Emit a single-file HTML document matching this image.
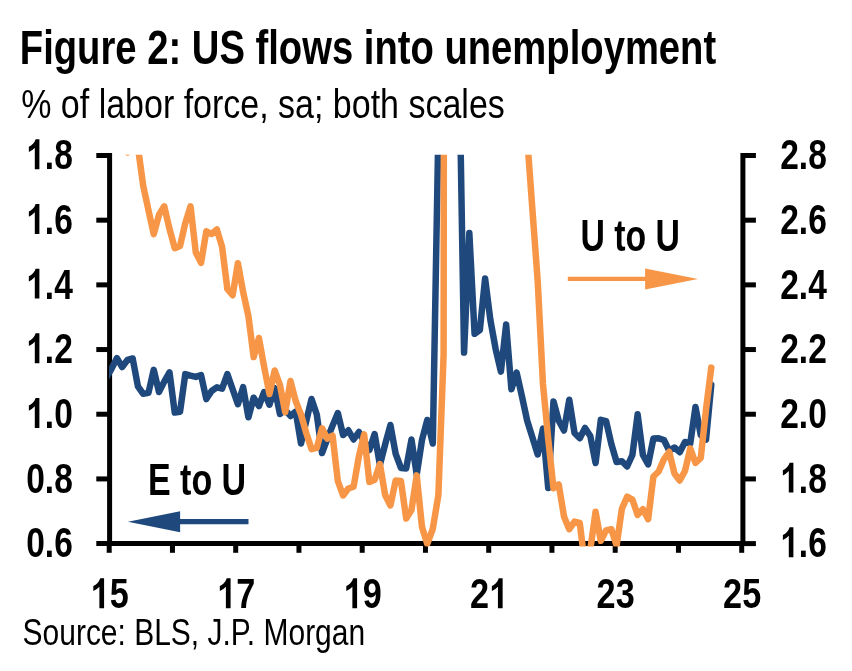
<!DOCTYPE html>
<html><head><meta charset="utf-8"><title>Figure 2</title>
<style>
html,body{margin:0;padding:0;background:#fff;}
svg{display:block;will-change:transform;}
text{font-family:"Liberation Sans",sans-serif;fill:#000;}
.b{font-weight:bold;}
</style></head><body>
<svg width="852" height="671" viewBox="0 0 852 671">
<rect width="852" height="671" fill="#fff"/>
<defs><clipPath id="cp"><rect x="109" y="154.8" width="634" height="391.6"/></clipPath></defs>
<text x="19.8" y="63.8" font-size="47.3" class="b" textLength="696.4" lengthAdjust="spacingAndGlyphs">Figure 2: US flows into unemployment</text>
<text x="21.2" y="117.6" font-size="41" textLength="483.6" lengthAdjust="spacingAndGlyphs">% of labor force, sa; both scales</text>
<text x="22.6" y="644.9" font-size="37.8" textLength="342.5" lengthAdjust="spacingAndGlyphs">Source: BLS, J.P. Morgan</text>
<g stroke="#000" stroke-width="5.0" fill="none" stroke-linecap="butt">
<path d="M109.6,153.00 V546.10"/>
<path d="M742.9,153.00 V546.10"/>
<path d="M96.3,543.60 H745.40"/>
<path d="M96.3,155.50 H109.6"/>
<path d="M96.3,220.18 H109.6"/>
<path d="M96.3,284.87 H109.6"/>
<path d="M96.3,349.55 H109.6"/>
<path d="M96.3,414.23 H109.6"/>
<path d="M96.3,478.92 H109.6"/>
<path d="M742.9,155.50 H755.9"/>
<path d="M742.9,220.18 H755.9"/>
<path d="M742.9,284.87 H755.9"/>
<path d="M742.9,349.55 H755.9"/>
<path d="M742.9,414.23 H755.9"/>
<path d="M742.9,478.92 H755.9"/>
<path d="M742.9,543.60 H755.9"/>
<path d="M109.20,543.60 V552.8"/>
<path d="M172.45,543.60 V552.8"/>
<path d="M235.70,543.60 V552.8"/>
<path d="M298.95,543.60 V552.8"/>
<path d="M362.20,543.60 V552.8"/>
<path d="M425.45,543.60 V552.8"/>
<path d="M488.70,543.60 V552.8"/>
<path d="M551.95,543.60 V552.8"/>
<path d="M615.20,543.60 V552.8"/>
<path d="M678.45,543.60 V552.8"/>
<path d="M741.70,543.60 V552.8"/>
</g>
<path d="M806 0H525V1059Q371 915 162 846V1101Q272 1137 401 1237.5Q530 1338 578 1472H806Z" transform="translate(26.20,169.2) scale(0.01637,-0.02034)" fill="#000"/>
<text x="44.84" y="169.2" font-size="43.4" class="b" textLength="27.96" lengthAdjust="spacingAndGlyphs">.8</text>
<text x="780.20" y="169.2" font-size="43.4" class="b" textLength="46.60" lengthAdjust="spacingAndGlyphs">2.8</text>
<path d="M806 0H525V1059Q371 915 162 846V1101Q272 1137 401 1237.5Q530 1338 578 1472H806Z" transform="translate(26.20,233.9) scale(0.01637,-0.02034)" fill="#000"/>
<text x="44.84" y="233.9" font-size="43.4" class="b" textLength="27.96" lengthAdjust="spacingAndGlyphs">.6</text>
<text x="780.20" y="233.9" font-size="43.4" class="b" textLength="46.60" lengthAdjust="spacingAndGlyphs">2.6</text>
<path d="M806 0H525V1059Q371 915 162 846V1101Q272 1137 401 1237.5Q530 1338 578 1472H806Z" transform="translate(26.20,298.6) scale(0.01637,-0.02034)" fill="#000"/>
<text x="44.84" y="298.6" font-size="43.4" class="b" textLength="27.96" lengthAdjust="spacingAndGlyphs">.4</text>
<text x="780.20" y="298.6" font-size="43.4" class="b" textLength="46.60" lengthAdjust="spacingAndGlyphs">2.4</text>
<path d="M806 0H525V1059Q371 915 162 846V1101Q272 1137 401 1237.5Q530 1338 578 1472H806Z" transform="translate(26.20,363.3) scale(0.01637,-0.02034)" fill="#000"/>
<text x="44.84" y="363.3" font-size="43.4" class="b" textLength="27.96" lengthAdjust="spacingAndGlyphs">.2</text>
<text x="780.20" y="363.3" font-size="43.4" class="b" textLength="46.60" lengthAdjust="spacingAndGlyphs">2.2</text>
<path d="M806 0H525V1059Q371 915 162 846V1101Q272 1137 401 1237.5Q530 1338 578 1472H806Z" transform="translate(26.20,427.9) scale(0.01637,-0.02034)" fill="#000"/>
<text x="44.84" y="427.9" font-size="43.4" class="b" textLength="27.96" lengthAdjust="spacingAndGlyphs">.0</text>
<text x="780.20" y="427.9" font-size="43.4" class="b" textLength="46.60" lengthAdjust="spacingAndGlyphs">2.0</text>
<text x="26.20" y="492.6" font-size="43.4" class="b" textLength="46.60" lengthAdjust="spacingAndGlyphs">0.8</text>
<path d="M806 0H525V1059Q371 915 162 846V1101Q272 1137 401 1237.5Q530 1338 578 1472H806Z" transform="translate(780.20,492.6) scale(0.01637,-0.02034)" fill="#000"/>
<text x="798.84" y="492.6" font-size="43.4" class="b" textLength="27.96" lengthAdjust="spacingAndGlyphs">.8</text>
<text x="26.20" y="557.3" font-size="43.4" class="b" textLength="46.60" lengthAdjust="spacingAndGlyphs">0.6</text>
<path d="M806 0H525V1059Q371 915 162 846V1101Q272 1137 401 1237.5Q530 1338 578 1472H806Z" transform="translate(780.20,557.3) scale(0.01637,-0.02034)" fill="#000"/>
<text x="798.84" y="557.3" font-size="43.4" class="b" textLength="27.96" lengthAdjust="spacingAndGlyphs">.6</text>
<path d="M806 0H525V1059Q371 915 162 846V1101Q272 1137 401 1237.5Q530 1338 578 1472H806Z" transform="translate(90.60,608.3) scale(0.01673,-0.02034)" fill="#000"/>
<text x="109.65" y="608.3" font-size="43.4" class="b" textLength="19.05" lengthAdjust="spacingAndGlyphs">5</text>
<path d="M806 0H525V1059Q371 915 162 846V1101Q272 1137 401 1237.5Q530 1338 578 1472H806Z" transform="translate(217.10,608.3) scale(0.01673,-0.02034)" fill="#000"/>
<text x="236.15" y="608.3" font-size="43.4" class="b" textLength="19.05" lengthAdjust="spacingAndGlyphs">7</text>
<path d="M806 0H525V1059Q371 915 162 846V1101Q272 1137 401 1237.5Q530 1338 578 1472H806Z" transform="translate(343.60,608.3) scale(0.01673,-0.02034)" fill="#000"/>
<text x="362.65" y="608.3" font-size="43.4" class="b" textLength="19.05" lengthAdjust="spacingAndGlyphs">9</text>
<text x="470.10" y="608.3" font-size="43.4" class="b" textLength="19.05" lengthAdjust="spacingAndGlyphs">2</text>
<path d="M806 0H525V1059Q371 915 162 846V1101Q272 1137 401 1237.5Q530 1338 578 1472H806Z" transform="translate(489.15,608.3) scale(0.01673,-0.02034)" fill="#000"/>
<text x="596.60" y="608.3" font-size="43.4" class="b" textLength="38.10" lengthAdjust="spacingAndGlyphs">23</text>
<text x="723.10" y="608.3" font-size="43.4" class="b" textLength="38.10" lengthAdjust="spacingAndGlyphs">25</text>
<g clip-path="url(#cp)" fill="none" stroke-linejoin="round" stroke-linecap="round">
<path d="M106.38,377.5 L111.64,368.5 L116.90,358.1 L122.16,367.0 L127.42,360.0 L132.68,358.5 L137.94,386.3 L143.20,393.8 L148.46,392.9 L153.72,369.8 L158.98,392.0 L164.24,381.6 L169.50,372.3 L174.76,412.6 L180.02,411.7 L185.28,374.1 L190.54,375.6 L195.80,376.9 L201.06,375.1 L206.32,399.1 L211.58,391.0 L216.84,387.3 L222.10,388.6 L227.36,374.1 L232.62,389.2 L237.88,404.2 L243.14,387.2 L248.40,417.3 L253.66,397.7 L258.92,406.0 L264.18,392.0 L269.44,404.7 L274.70,388.0 L279.96,414.0 L285.22,409.8 L290.48,416.0 L295.74,411.6 L301.00,443.5 L306.26,421.0 L311.52,399.0 L316.78,414.5 L322.04,453.0 L327.30,438.8 L332.56,425.6 L337.82,413.0 L343.08,435.0 L348.34,430.3 L353.60,439.5 L358.86,432.0 L364.12,441.0 L369.38,450.0 L374.64,434.1 L379.90,465.0 L385.16,444.4 L390.42,425.0 L395.68,453.8 L400.94,467.9 L406.20,468.4 L411.46,439.5 L416.72,474.5 L421.98,440.0 L427.24,420.0 L432.80,443.5 L438.36,130.0 L443.62,-3000.0 L448.88,-1500.0 L453.54,-700.0 L458.80,38.0 L464.06,352.6 L469.32,233.0 L474.58,333.8 L479.84,330.1 L485.10,278.5 L490.36,319.8 L495.62,348.9 L500.88,371.6 L506.14,324.5 L511.40,389.2 L516.66,372.6 L521.92,396.3 L527.18,420.8 L532.44,437.5 L537.70,454.5 L542.96,428.6 L548.22,488.0 L553.48,401.4 L558.74,420.8 L564.00,430.5 L569.26,399.7 L574.52,433.0 L579.78,438.2 L585.04,428.0 L590.30,436.0 L595.56,463.0 L600.82,419.8 L606.08,421.1 L611.34,444.0 L616.60,462.0 L621.86,461.3 L627.12,466.5 L632.38,455.0 L637.64,414.3 L642.90,455.0 L648.16,464.3 L653.42,438.5 L658.68,438.3 L663.94,440.0 L669.20,450.6 L674.46,447.5 L679.72,452.2 L684.98,442.0 L690.24,443.5 L695.50,407.0 L700.76,435.0 L706.02,439.6 L711.28,384.8" stroke="#1f497d" stroke-width="6.5"/>
<path d="M106.38,100.0 L111.64,110.0 L116.90,105.0 L122.16,120.0 L127.42,152.5 L132.68,120.0 L137.94,147.2 L143.20,185.7 L148.46,210.1 L153.72,234.1 L158.98,214.8 L164.24,206.3 L169.50,228.9 L174.76,248.2 L180.02,245.9 L185.28,223.2 L190.54,206.3 L195.80,252.5 L201.06,262.8 L206.32,231.3 L211.58,234.0 L216.84,229.4 L222.10,246.9 L227.36,289.0 L232.62,295.2 L237.88,263.2 L243.14,292.0 L248.40,316.0 L253.66,357.1 L258.92,338.0 L264.18,367.0 L269.44,394.0 L274.70,370.5 L279.96,385.0 L285.22,412.2 L290.48,381.0 L295.74,401.3 L301.00,414.5 L306.26,433.0 L311.52,449.1 L316.78,447.8 L322.04,428.3 L327.30,438.6 L332.56,435.7 L337.82,481.0 L343.08,495.5 L348.34,488.5 L353.60,486.7 L358.86,456.6 L364.12,434.4 L369.38,482.0 L374.64,479.7 L379.90,464.1 L385.16,495.1 L390.42,505.4 L395.68,480.5 L400.94,481.0 L406.20,518.6 L411.46,510.1 L416.72,475.4 L421.98,527.0 L427.24,543.8 L432.80,528.8 L438.36,495.3 L443.62,354.0 L448.88,-5000.0 L453.54,-4000.0 L458.80,-3000.0 L464.06,-2500.0 L469.32,-2000.0 L474.58,-1600.0 L479.84,-1300.0 L485.10,-1000.0 L490.36,-800.0 L495.62,-600.0 L500.88,-450.0 L506.14,-300.0 L511.40,-150.0 L516.66,-50.0 L521.92,70.0 L527.18,138.0 L532.44,210.0 L537.70,281.0 L542.96,384.0 L548.22,439.0 L553.48,488.2 L558.74,484.5 L564.00,516.4 L569.26,529.2 L574.52,521.6 L579.78,523.0 L585.04,566.0 L590.30,549.5 L595.56,511.7 L600.82,540.8 L606.08,530.5 L611.34,529.2 L616.60,545.5 L621.86,508.9 L627.12,496.7 L632.38,499.5 L637.64,514.9 L642.90,509.2 L648.16,519.2 L653.42,476.5 L658.68,471.5 L663.94,459.3 L669.20,451.8 L674.46,473.5 L679.72,480.5 L684.98,471.0 L690.24,448.4 L695.50,463.0 L700.76,458.0 L706.02,409.3 L711.28,367.6" stroke="#f79646" stroke-width="6.5"/>
</g>
<text x="147.9" y="494.8" font-size="44.4" class="b" textLength="98.3" lengthAdjust="spacingAndGlyphs">E to U</text>
<path d="M248.5,521.7 H179" stroke="#1f497d" stroke-width="5.3" fill="none"/>
<path d="M127.9,521.7 L180.1,511.3 L180.1,532.2 Z" fill="#1f497d"/>
<text x="580.4" y="250.6" font-size="44.4" class="b" textLength="99.6" lengthAdjust="spacingAndGlyphs">U to U</text>
<path d="M567.8,278.9 H646" stroke="#f79646" stroke-width="4.4" fill="none"/>
<path d="M698.0,278.9 L645.1,268.4 L645.1,289.4 Z" fill="#f79646"/>
</svg>
</body></html>
